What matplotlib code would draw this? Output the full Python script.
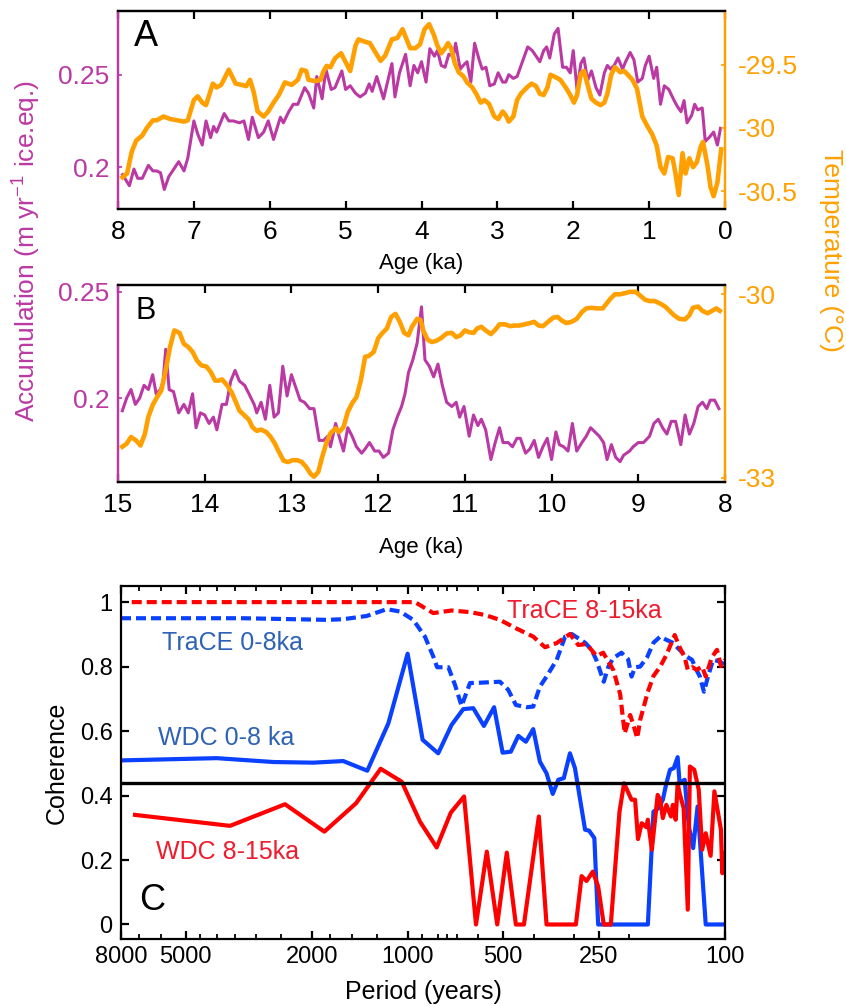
import matplotlib
matplotlib.use("Agg")
import matplotlib.pyplot as plt
from matplotlib.ticker import FixedLocator, FixedFormatter, NullFormatter

plt.rcParams["font.family"] = ["Liberation Sans", "DejaVu Sans"]
plt.rcParams["axes.unicode_minus"] = False
plt.rcParams["mathtext.fontset"] = "custom"
plt.rcParams["mathtext.rm"] = "Liberation Sans"
plt.rcParams["mathtext.default"] = "regular"

MAGENTA = "#BB39A3"
ORANGE = "#FFA000"
BLUE = "#0A40FF"
RED = "#FF0000"
TXT_BLUE = "#2E62B6"
TXT_RED = "#EE1C2E"

# ---- panel A: 0-8 ka ----
a_acc_age = [7.94, 7.85, 7.79, 7.74, 7.68, 7.60, 7.54, 7.49, 7.44, 7.39,
             7.33, 7.28, 7.20, 7.13, 7.08, 7.00, 6.95, 6.89, 6.84, 6.78,
             6.74, 6.70, 6.60, 6.54, 6.48, 6.40, 6.34, 6.28, 6.23, 6.15,
             6.08, 6.02, 5.95, 5.86, 5.82, 5.75, 5.69, 5.63, 5.54, 5.49,
             5.42, 5.38, 5.31, 5.26, 5.19, 5.14, 5.05, 5.00, 4.94, 4.87,
             4.81, 4.74, 4.69, 4.65, 4.59, 4.50, 4.39, 4.35, 4.29, 4.21,
             4.15, 4.10, 4.05, 4.00, 3.94, 3.89, 3.83, 3.79, 3.74, 3.69,
             3.64, 3.58, 3.55, 3.49, 3.45, 3.40, 3.35, 3.30, 3.24, 3.20,
             3.15, 3.10, 3.04, 2.99, 2.93, 2.89, 2.85, 2.79, 2.74, 2.67,
             2.60, 2.54, 2.49, 2.44, 2.39, 2.35, 2.31, 2.25, 2.20, 2.14,
             2.09, 2.04, 2.00, 1.95, 1.90, 1.86, 1.81, 1.76, 1.70, 1.65,
             1.59, 1.55, 1.51, 1.46, 1.41, 1.35, 1.31, 1.25, 1.20, 1.15,
             1.09, 1.05, 1.00, 0.94, 0.90, 0.85, 0.80, 0.74, 0.67, 0.63,
             0.58, 0.54, 0.50, 0.44, 0.40, 0.36, 0.30, 0.26, 0.21, 0.15,
             0.10, 0.06]
a_acc = [0.196, 0.190, 0.199, 0.194, 0.194, 0.201, 0.198, 0.198, 0.197, 0.188,
         0.195, 0.198, 0.203, 0.198, 0.205, 0.225, 0.218, 0.212, 0.225, 0.216,
         0.222, 0.219, 0.229, 0.225, 0.225, 0.224, 0.225, 0.215, 0.227, 0.216,
         0.219, 0.225, 0.215, 0.227, 0.224, 0.230, 0.234, 0.234, 0.243, 0.240,
         0.232, 0.249, 0.237, 0.253, 0.242, 0.243, 0.252, 0.242, 0.244, 0.240,
         0.238, 0.240, 0.245, 0.241, 0.249, 0.237, 0.256, 0.238, 0.251, 0.261,
         0.244, 0.255, 0.251, 0.257, 0.246, 0.264, 0.260, 0.263, 0.255, 0.254,
         0.261, 0.260, 0.267, 0.253, 0.255, 0.257, 0.246, 0.267, 0.258, 0.253,
         0.254, 0.244, 0.245, 0.251, 0.246, 0.246, 0.250, 0.248, 0.249, 0.257,
         0.265, 0.263, 0.260, 0.257, 0.263, 0.265, 0.259, 0.272, 0.275, 0.254,
         0.254, 0.251, 0.263, 0.242, 0.256, 0.259, 0.247, 0.252, 0.243, 0.239,
         0.251, 0.255, 0.253, 0.255, 0.259, 0.253, 0.257, 0.262, 0.258, 0.246,
         0.248, 0.255, 0.260, 0.248, 0.254, 0.234, 0.244, 0.242, 0.236, 0.233,
         0.230, 0.236, 0.224, 0.228, 0.234, 0.231, 0.232, 0.214, 0.216, 0.219,
         0.212, 0.221]

a_temp_age = [7.94, 7.88, 7.82, 7.76, 7.68, 7.62, 7.54, 7.49, 7.40, 7.31,
              7.22, 7.13, 7.08, 7.00, 6.95, 6.89, 6.84, 6.75, 6.70, 6.64,
              6.54, 6.45, 6.37, 6.31, 6.26, 6.21, 6.16, 6.08, 6.02, 5.95,
              5.88, 5.80, 5.71, 5.63, 5.58, 5.52, 5.49, 5.40, 5.33, 5.29,
              5.25, 5.20, 5.14, 5.06, 5.00, 4.94, 4.87, 4.83, 4.74, 4.68,
              4.61, 4.54, 4.48, 4.39, 4.32, 4.25, 4.21, 4.15, 4.08, 4.02,
              3.96, 3.90, 3.84, 3.79, 3.74, 3.69, 3.65, 3.61, 3.56, 3.51,
              3.45, 3.40, 3.33, 3.27, 3.22, 3.17, 3.11, 3.04, 2.99, 2.93,
              2.89, 2.85, 2.79, 2.74, 2.69, 2.61, 2.55, 2.49, 2.44, 2.39,
              2.34, 2.30, 2.23, 2.17, 2.10, 2.04, 1.99, 1.95, 1.90, 1.86,
              1.81, 1.76, 1.70, 1.64, 1.59, 1.55, 1.50, 1.45, 1.38, 1.33,
              1.28, 1.22, 1.16, 1.09, 1.02, 0.96, 0.90, 0.85, 0.80, 0.75,
              0.69, 0.65, 0.61, 0.56, 0.52, 0.47, 0.42, 0.37, 0.32, 0.29,
              0.23, 0.19, 0.15, 0.10, 0.05]
a_temp = [-30.39, -30.36, -30.19, -30.10, -30.06, -30.00, -29.94, -29.94, -29.91, -29.93,
          -29.94, -29.95, -29.94, -29.78, -29.75, -29.80, -29.82, -29.65, -29.68, -29.66,
          -29.54, -29.65, -29.66, -29.67, -29.62, -29.72, -29.87, -29.91, -29.87, -29.80,
          -29.74, -29.64, -29.66, -29.62, -29.54, -29.55, -29.62, -29.63, -29.62, -29.55,
          -29.51, -29.52, -29.45, -29.41, -29.48, -29.55, -29.35, -29.30, -29.32, -29.33,
          -29.40, -29.47, -29.43, -29.30, -29.29, -29.22, -29.28, -29.37, -29.37, -29.34,
          -29.22, -29.18, -29.26, -29.35, -29.41, -29.37, -29.33, -29.37, -29.49, -29.56,
          -29.59, -29.64, -29.68, -29.74, -29.80, -29.78, -29.81, -29.91, -29.93, -29.87,
          -29.90, -29.95, -29.91, -29.78, -29.73, -29.68, -29.65, -29.67, -29.73, -29.74,
          -29.68, -29.58, -29.60, -29.62, -29.68, -29.74, -29.80, -29.74, -29.57, -29.55,
          -29.66, -29.77, -29.80, -29.82, -29.80, -29.73, -29.58, -29.52, -29.56, -29.55,
          -29.58, -29.62, -29.69, -29.91, -29.99, -30.05, -30.14, -30.31, -30.36, -30.23,
          -30.24, -30.37, -30.53, -30.20, -30.36, -30.24, -30.31, -30.27, -30.15, -30.11,
          -30.30, -30.47, -30.54, -30.43, -30.17]

# ---- panel B: 8-15 ka ----
b_acc_age = [14.95, 14.90, 14.85, 14.80, 14.75, 14.70, 14.65, 14.60, 14.56, 14.51,
             14.48, 14.45, 14.41, 14.36, 14.30, 14.24, 14.19, 14.14, 14.10, 14.05,
             14.00, 13.95, 13.90, 13.86, 13.80, 13.75, 13.70, 13.65, 13.60, 13.54,
             13.49, 13.43, 13.40, 13.35, 13.30, 13.25, 13.20, 13.15, 13.10, 13.05,
             13.00, 12.95, 12.90, 12.85, 12.79, 12.74, 12.68, 12.63, 12.58, 12.55,
             12.49, 12.45, 12.40, 12.35, 12.30, 12.25, 12.19, 12.15, 12.10, 12.04,
             11.99, 11.94, 11.88, 11.83, 11.78, 11.73, 11.69, 11.65, 11.60, 11.55,
             11.50, 11.46, 11.41, 11.36, 11.31, 11.26, 11.21, 11.15, 11.10, 11.06,
             11.01, 10.95, 10.90, 10.85, 10.81, 10.76, 10.70, 10.65, 10.60, 10.56,
             10.50, 10.45, 10.40, 10.36, 10.30, 10.25, 10.20, 10.15, 10.10, 10.05,
             10.00, 9.95, 9.91, 9.86, 9.81, 9.76, 9.71, 9.65, 9.60, 9.55,
             9.50, 9.45, 9.40, 9.36, 9.31, 9.26, 9.21, 9.17, 9.10, 9.06,
             9.00, 8.94, 8.87, 8.82, 8.77, 8.72, 8.67, 8.62, 8.57, 8.51,
             8.46, 8.41, 8.36, 8.31, 8.26, 8.21, 8.17, 8.12, 8.07]
b_acc = [0.194, 0.200, 0.204, 0.197, 0.200, 0.206, 0.204, 0.211, 0.202, 0.204,
         0.208, 0.223, 0.204, 0.203, 0.193, 0.197, 0.193, 0.202, 0.186, 0.193,
         0.192, 0.188, 0.191, 0.185, 0.197, 0.197, 0.208, 0.213, 0.208, 0.206,
         0.202, 0.197, 0.193, 0.198, 0.190, 0.206, 0.191, 0.193, 0.215, 0.201,
         0.211, 0.205, 0.199, 0.198, 0.195, 0.195, 0.180, 0.180, 0.182, 0.177,
         0.188, 0.182, 0.175, 0.186, 0.182, 0.177, 0.174, 0.176, 0.179, 0.175,
         0.175, 0.172, 0.174, 0.185, 0.191, 0.196, 0.202, 0.212, 0.218, 0.226,
         0.243, 0.218, 0.215, 0.210, 0.216, 0.206, 0.198, 0.196, 0.198, 0.191,
         0.196, 0.182, 0.192, 0.187, 0.190, 0.185, 0.171, 0.179, 0.186, 0.179,
         0.179, 0.177, 0.181, 0.181, 0.174, 0.176, 0.180, 0.172, 0.177, 0.181,
         0.171, 0.184, 0.178, 0.177, 0.175, 0.188, 0.175, 0.179, 0.182, 0.186,
         0.184, 0.182, 0.179, 0.171, 0.178, 0.172, 0.170, 0.173, 0.175, 0.177,
         0.179, 0.179, 0.182, 0.188, 0.190, 0.186, 0.183, 0.189, 0.189, 0.178,
         0.192, 0.183, 0.188, 0.196, 0.198, 0.195, 0.199, 0.199, 0.195]

b_temp_age = [14.95, 14.90, 14.85, 14.79, 14.74, 14.69, 14.65, 14.60, 14.55, 14.50,
              14.45, 14.40, 14.35, 14.29, 14.24, 14.19, 14.14, 14.09, 14.04, 13.98,
              13.93, 13.88, 13.84, 13.80, 13.74, 13.69, 13.65, 13.60, 13.54, 13.49,
              13.45, 13.40, 13.35, 13.29, 13.24, 13.19, 13.15, 13.09, 13.04, 12.99,
              12.93, 12.88, 12.83, 12.78, 12.74, 12.69, 12.65, 12.60, 12.55, 12.49,
              12.45, 12.40, 12.35, 12.30, 12.25, 12.20, 12.15, 12.11, 12.05, 12.00,
              11.95, 11.90, 11.85, 11.80, 11.75, 11.70, 11.65, 11.61, 11.55, 11.51,
              11.48, 11.43, 11.38, 11.33, 11.27, 11.21, 11.15, 11.10, 11.05, 11.00,
              10.95, 10.90, 10.86, 10.81, 10.76, 10.70, 10.65, 10.60, 10.54, 10.48,
              10.42, 10.37, 10.31, 10.25, 10.20, 10.15, 10.10, 10.04, 9.98, 9.93,
              9.88, 9.83, 9.77, 9.71, 9.65, 9.60, 9.54, 9.48, 9.41, 9.37,
              9.32, 9.27, 9.21, 9.15, 9.10, 9.03, 8.98, 8.92, 8.87, 8.81,
              8.75, 8.69, 8.64, 8.59, 8.53, 8.46, 8.41, 8.37, 8.31, 8.26,
              8.20, 8.15, 8.10, 8.06]
b_temp = [-32.49, -32.44, -32.33, -32.39, -32.47, -32.28, -32.00, -31.81, -31.68, -31.57,
          -31.24, -30.86, -30.59, -30.63, -30.81, -30.86, -30.94, -31.08, -31.16, -31.18,
          -31.27, -31.41, -31.41, -31.39, -31.49, -31.60, -31.73, -31.90, -31.98, -32.05,
          -32.17, -32.23, -32.21, -32.25, -32.33, -32.44, -32.56, -32.72, -32.74, -32.71,
          -32.71, -32.74, -32.82, -32.93, -32.98, -32.90, -32.68, -32.44, -32.27, -32.19,
          -32.25, -32.17, -31.92, -31.78, -31.68, -31.41, -31.02, -31.01, -30.94, -30.72,
          -30.63, -30.56, -30.37, -30.32, -30.45, -30.63, -30.67, -30.53, -30.40, -30.42,
          -30.59, -30.74, -30.78, -30.76, -30.71, -30.64, -30.63, -30.70, -30.67, -30.59,
          -30.62, -30.63, -30.56, -30.53, -30.59, -30.65, -30.58, -30.49, -30.49, -30.52,
          -30.51, -30.51, -30.49, -30.47, -30.45, -30.51, -30.52, -30.45, -30.38, -30.37,
          -30.43, -30.47, -30.45, -30.40, -30.29, -30.23, -30.22, -30.23, -30.23, -30.16,
          -30.07, -30.00, -30.00, -29.98, -29.96, -29.96, -30.02, -30.09, -30.11, -30.11,
          -30.15, -30.20, -30.27, -30.34, -30.40, -30.41, -30.34, -30.22, -30.20, -30.27,
          -30.31, -30.27, -30.23, -30.27]

# ---- panel C: coherence vs period ----
wdc08_period = [8000, 3996, 2651, 1982, 1595, 1340, 1150, 1000, 897, 801,
                727, 668, 621, 575, 534, 502, 473, 448, 424, 402,
                383, 365, 349, 335, 322, 308, 297, 276, 268, 258,
                251, 175, 168, 162, 157, 153, 149, 145, 141, 139,
                134, 130, 126, 122, 115, 100]
wdc08_coh = [0.509, 0.516, 0.504, 0.502, 0.507, 0.477, 0.624, 0.840, 0.573, 0.531,
             0.619, 0.668, 0.671, 0.616, 0.674, 0.533, 0.536, 0.585, 0.567, 0.606,
             0.505, 0.469, 0.405, 0.449, 0.454, 0.531, 0.485, 0.294, 0.291, 0.268,
             0.0, 0.0, 0.350, 0.361, 0.387, 0.438, 0.480, 0.485, 0.519, 0.438,
             0.449, 0.304, 0.237, 0.366, 0.0, 0.0]

wdc815_period = [7227, 3628, 2434, 1830, 1454, 1216, 1044, 914, 810, 731,
                 664, 609, 563, 522, 487, 456, 430, 386, 365, 295,
                 283, 273, 261, 251, 241, 229, 215, 208, 197, 192,
                 188, 183, 177, 175, 170, 163, 160, 157, 153, 148,
                 146, 143, 141, 139, 135, 131, 129, 125, 121, 118,
                 115, 111, 108, 103, 102, 100]
wdc815_coh = [0.340, 0.306, 0.373, 0.288, 0.376, 0.483, 0.443, 0.319, 0.239, 0.347,
              0.397, 0.0, 0.226, 0.0, 0.223, 0.0, 0.0, 0.335, 0.0, 0.0,
              0.150, 0.135, 0.164, 0.118, 0.0, 0.0, 0.350, 0.438, 0.387, 0.387,
              0.265, 0.314, 0.302, 0.325, 0.232, 0.402, 0.387, 0.330, 0.371, 0.335,
              0.371, 0.325, 0.438, 0.407, 0.361, 0.046, 0.490, 0.480, 0.418, 0.232,
              0.283, 0.213, 0.413, 0.294, 0.159, 0.221]

trace08_period = [8000, 3295, 1799, 1595, 1346, 1164, 1057, 960, 882, 830,
                  807, 744, 709, 676, 636, 591, 512, 482, 456, 422,
                  402, 383, 365, 339, 319, 304, 276, 263, 254, 241,
                  233, 225, 212, 202, 197, 192, 185, 176, 168, 160,
                  153, 146, 139, 132, 127, 123, 120, 116.5, 113, 109,
                  104, 100]
trace08_coh = [0.950, 0.950, 0.945, 0.947, 0.957, 0.978, 0.971, 0.945, 0.893, 0.831,
               0.798, 0.798, 0.743, 0.678, 0.749, 0.750, 0.753, 0.728, 0.681, 0.674,
               0.676, 0.738, 0.769, 0.821, 0.893, 0.901, 0.874, 0.852, 0.819, 0.753,
               0.800, 0.826, 0.843, 0.823, 0.769, 0.798, 0.800, 0.829, 0.874, 0.893,
               0.883, 0.874, 0.852, 0.831, 0.821, 0.790, 0.769, 0.722, 0.771, 0.821,
               0.816, 0.805]

trace815_period = [7400, 948, 830, 727, 636, 570, 512, 456, 402, 369,
                   339, 308, 290, 273, 254, 242, 225, 214, 207, 199,
                   195, 189, 185, 175, 168, 160, 153, 144, 139, 134,
                   131, 126.5, 123, 118, 115, 110, 106, 103, 100]
trace815_coh = [1.0, 1.0, 0.966, 0.974, 0.969, 0.960, 0.945, 0.919, 0.893, 0.860,
                0.873, 0.901, 0.867, 0.870, 0.833, 0.843, 0.790, 0.715, 0.593, 0.650,
                0.624, 0.578, 0.635, 0.722, 0.771, 0.800, 0.836, 0.898, 0.860, 0.829,
                0.790, 0.798, 0.790, 0.800, 0.769, 0.829, 0.852, 0.802, 0.821]

sig_level = 0.44
period_ticks = [8000, 5000, 2000, 1000, 500, 250, 100]
period_minor = [7000, 6000, 4500, 4000, 3500, 3000, 2500, 1750, 1500, 1250,
                900, 800, 750, 700, 600, 400, 300, 200]
coh_ticks = [0, 0.2, 0.4, 0.6, 0.8, 1]


def age_panel(rect, acc_age, acc, temp_age, temp, xlim, acc_lim, acc_ticks,
              temp_lim, temp_ticks, letter, letter_size, xlabel_y):
    ax = fig.add_axes(rect)
    ax.plot(acc_age, acc, color=MAGENTA, lw=2.2)
    ax2 = ax.twinx()
    ax2.plot(temp_age, temp, color=ORANGE, lw=3.3)

    ax.set_xlim(*xlim)
    ax.set_ylim(*acc_lim)
    ax2.set_ylim(*temp_lim)
    lo, hi = sorted(xlim)
    ax.set_xticks(range(int(lo), int(hi) + 1))
    ax.set_yticks(acc_ticks)
    ax.set_yticklabels([f"{t:g}" for t in acc_ticks])
    ax2.set_yticks(temp_ticks)
    ax2.set_yticklabels([f"{t:g}" for t in temp_ticks])

    for a in (ax, ax2):
        a.spines["top"].set_color("black")
        a.spines["bottom"].set_color("black")
        a.spines["left"].set_color(MAGENTA)
        a.spines["right"].set_color(ORANGE)
        for s in a.spines.values():
            s.set_linewidth(1.6)

    ax.tick_params(axis="x", which="both", direction="in", top=True, bottom=True,
                   length=6, width=1.6, labelsize=19, pad=8)
    ax.tick_params(axis="y", direction="in", length=3, width=1.2,
                   colors=MAGENTA, labelsize=19, pad=6)
    ax2.tick_params(axis="y", direction="in", length=3, width=1.2,
                    colors=ORANGE, labelsize=19, pad=9)

    ax.set_xlabel("Age (ka)", fontsize=16)
    ax.xaxis.set_label_coords(0.5, xlabel_y)
    ax.xaxis.label.set_va("center")
    ax.text(0.046, 0.87, letter, transform=ax.transAxes, fontsize=letter_size,
            ha="center", va="center")
    return ax, ax2


fig = plt.figure(figsize=(8.46, 10.06), dpi=100)

age_panel([118 / 846, 1 - 208.5 / 1006, 607 / 846, 197.5 / 1006],
          a_acc_age, a_acc, a_temp_age, a_temp, (8, 0),
          (0.1777, 0.2844), [0.2, 0.25], (-30.637, -29.076), [-30.5, -30, -29.5],
          "A", 26, -0.276)

age_panel([118 / 846, 1 - 482 / 1006, 607 / 846, 197 / 1006],
          b_acc_age, b_acc, b_temp_age, b_temp, (15, 8),
          (0.1604, 0.2533), [0.2, 0.25], (-33.066, -29.848), [-33, -30],
          "B", 22, -0.330)

fig.text(27 / 846, 1 - 251 / 1006, "Accumulation (m yr$^{-1}$ ice.eq.)",
         rotation=90, color=MAGENTA, fontsize=19, ha="center", va="center")
fig.text(831 / 846, 1 - 250 / 1006, "Temperature (°C)",
         rotation=-90, color=ORANGE, fontsize=19, ha="center", va="center")

# ---- panel C ----
axc = fig.add_axes([121 / 846, 1 - 939 / 1006, 604 / 846, 353 / 1006])
dash = (0, (2.4, 1.2))
axc.plot(trace08_period, trace08_coh, color=BLUE, lw=3, linestyle=dash)
axc.plot(trace815_period, trace815_coh, color=RED, lw=3, linestyle=dash)
axc.plot(wdc08_period, wdc08_coh, color=BLUE, lw=3)
axc.plot(wdc815_period, wdc815_coh, color=RED, lw=3)
axc.axhline(sig_level, color="black", lw=2.4, zorder=5)

axc.set_xscale("log")
axc.set_xlim(8000, 100)
axc.set_ylim(-0.045, 1.05)
axc.xaxis.set_major_locator(FixedLocator(period_ticks))
axc.xaxis.set_major_formatter(FixedFormatter([str(p) for p in period_ticks]))
axc.xaxis.set_minor_locator(FixedLocator(period_minor))
axc.xaxis.set_minor_formatter(NullFormatter())
axc.set_yticks(coh_ticks)
axc.set_yticklabels([f"{t:g}" for t in coh_ticks])
for s in axc.spines.values():
    s.set_linewidth(1.6)
axc.tick_params(axis="both", which="major", direction="in", top=True, right=True,
                length=6, width=1.6, labelsize=17)
axc.tick_params(axis="x", which="minor", direction="in", top=True, bottom=True,
                length=3.5, width=1.3)
axc.tick_params(axis="x", pad=5)
axc.tick_params(axis="y", pad=6)

axc.set_xlabel("Period (years)", fontsize=18)
axc.xaxis.set_label_coords(0.5, -0.150)
axc.xaxis.label.set_va("center")
axc.set_ylabel("Coherence", fontsize=18)
axc.yaxis.set_label_coords(-0.106, 0.5)
axc.yaxis.label.set_va("center")

axc.text(0.768, 0.929, "TraCE 8-15ka", transform=axc.transAxes, color=TXT_RED,
         fontsize=18, ha="center", va="center")
axc.text(0.185, 0.839, "TraCE 0-8ka", transform=axc.transAxes, color=TXT_BLUE,
         fontsize=18, ha="center", va="center")
axc.text(0.174, 0.569, "WDC 0-8 ka", transform=axc.transAxes, color=TXT_BLUE,
         fontsize=18, ha="center", va="center")
axc.text(0.177, 0.246, "WDC 8-15ka", transform=axc.transAxes, color=TXT_RED,
         fontsize=18, ha="center", va="center")
axc.text(0.051, 0.110, "C", transform=axc.transAxes, fontsize=26,
         ha="center", va="center")

fig.savefig("out.png", dpi=100)
